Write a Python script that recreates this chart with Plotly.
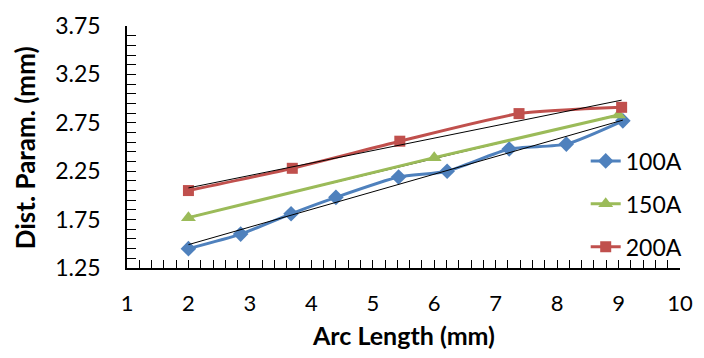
import numpy as np
import plotly.graph_objects as go

# ---- data ----
x_100 = [2.0, 2.85, 3.67, 4.40, 5.42, 6.21, 7.22, 8.15, 9.07]
y_100 = [1.45, 1.60, 1.81, 1.98, 2.19, 2.25, 2.48, 2.53, 2.77]
x_150 = [2.0, 6.0, 9.0]
y_150 = [1.77, 2.39, 2.83]
x_200 = [2.0, 3.69, 5.44, 7.38, 9.05]
y_200 = [2.05, 2.28, 2.56, 2.845, 2.91]

series_names = ["100A", "150A", "200A"]
colors = ["#4F81BD", "#9BBB59", "#C0504D"]
symbols = ["diamond", "triangle-up", "square"]
msizes = [12, 13, 11]

y_ticks = [1.25, 1.75, 2.25, 2.75, 3.25, 3.75]
x_ticks = [1, 2, 3, 4, 5, 6, 7, 8, 9, 10]

FONT = "Lato"
L, R, T, B = 127, 690, 11, 268
PW, PH = R - L, B - T

fig = go.Figure()
datasets = [(x_100, y_100), (x_150, y_150), (x_200, y_200)]


def trend(xs, ys):
    m, c = np.polyfit(xs, ys, 1)
    tx = [xs[0], xs[-1]]
    return go.Scatter(x=tx, y=[m * v + c for v in tx], mode="lines",
                      line=dict(color="#000000", width=1),
                      showlegend=False, hoverinfo="skip")


# green trendline sits under its series line
fig.add_trace(trend(x_150, y_150))

for (xs, ys), name, col, sym, ms in zip(datasets, series_names, colors, symbols, msizes):
    fig.add_trace(go.Scatter(x=xs, y=ys, mode="lines+markers", name=name,
                             legendgroup=name,
                             line=dict(color=col, width=3, shape="spline", smoothing=0.6),
                             marker=dict(symbol=sym, size=ms, color=col)))

fig.add_trace(trend(x_100, y_100))
fig.add_trace(trend(x_200, y_200))

fig.update_layout(
    width=704, height=358,
    margin=dict(l=L, r=704 - R, t=T, b=358 - B),
    paper_bgcolor="white", plot_bgcolor="white",
    font=dict(family=FONT, size=23, color="#000000"),
    showlegend=True,
    legend=dict(x=(594 - L) / PW, xanchor="left", y=(B - 200) / PH, yanchor="middle",
                traceorder="grouped", tracegroupgap=10,
                font=dict(family=FONT, size=23), bgcolor="rgba(0,0,0,0)",
                itemwidth=30),
)

fig.update_xaxes(range=[1, 10], tickvals=x_ticks, ticktext=[str(v) for v in x_ticks],
                 showgrid=False, zeroline=False, showline=True, linecolor="#000000",
                 linewidth=1.5, ticks="inside", ticklen=8, tickcolor="#000000",
                 ticklabelstandoff=15, ticklabeloverflow="allow",
                 minor=dict(dtick=0.2, tick0=1, ticks="inside", ticklen=8,
                            tickcolor="#000000", showgrid=False),
                 tickfont=dict(family=FONT, size=22))
fig.update_yaxes(range=[1.25, 3.75], tickvals=y_ticks, ticktext=[f"{v:.2f}" for v in y_ticks],
                 showgrid=False, zeroline=False, showline=True, linecolor="#000000",
                 linewidth=1.5, ticks="inside", ticklen=9, tickcolor="#000000",
                 ticklabelstandoff=20, ticklabeloverflow="allow",
                 minor=dict(dtick=0.1, tick0=1.25, ticks="inside", ticklen=9,
                            tickcolor="#000000", showgrid=False),
                 tickfont=dict(family=FONT, size=23))

fig.add_annotation(text="<b>Arc Length (mm)</b>", xref="paper", yref="paper",
                   x=(408 - L) / PW, y=-(339 - B) / PH,
                   xanchor="center", yanchor="middle", showarrow=False,
                   font=dict(family=FONT, size=25))
fig.add_annotation(text="<b>Dist. Param. (mm)</b>", xref="paper", yref="paper",
                   x=-(L - 24) / PW, y=(B - 140) / PH,
                   xanchor="center", yanchor="middle", textangle=-90, showarrow=False,
                   font=dict(family=FONT, size=26))

fig.write_html("out.html")
